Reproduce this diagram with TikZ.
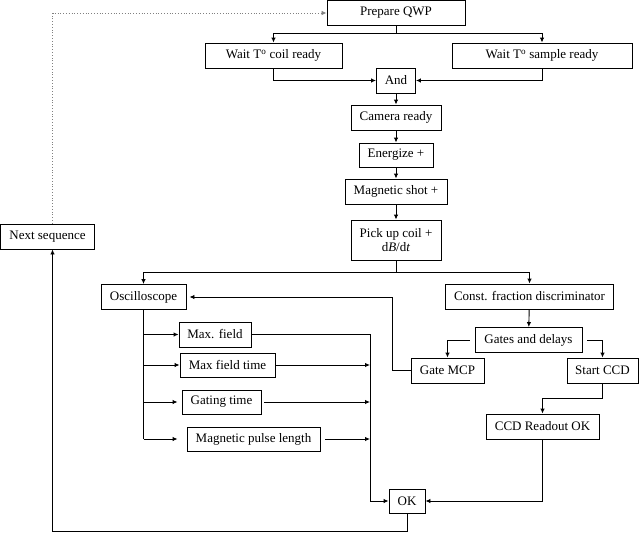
\documentclass[tikz,border=0pt]{standalone}
\usepackage{fontspec}
\setmainfont{Liberation Serif}
\usetikzlibrary{arrows.meta}
\begin{document}
\begin{tikzpicture}[x=1pt,y=-1pt,
  box/.style={draw,line width=0.9pt,rectangle,inner sep=0pt,align=center,font=\fontsize{13}{14}\selectfont},
  con/.style={line width=0.9pt,-{Latex[length=5pt,width=4.5pt]}},
  lin/.style={line width=0.9pt},
  dot/.style={line width=0.8pt,gray,dotted,-{Latex[length=5pt,width=4.5pt]}}]
\useasboundingbox (0,0) rectangle (640,533);
% nodes
\node[box,minimum width=138,minimum height=25] (prep) at (396,13) {Prepare QWP};
\node[box,minimum width=137,minimum height=25] (coil) at (273.5,55.5) {Wait T\textsuperscript{o} coil ready};
\node[box,minimum width=180,minimum height=25] (sample) at (542,55.5) {Wait T\textsuperscript{o} sample ready};
\node[box,minimum width=39,minimum height=25] (and) at (396,80.5) {And};
\node[box,minimum width=90,minimum height=25] (camera) at (396,117.5) {Camera ready};
\node[box,minimum width=74,minimum height=24] (energize) at (396,155) {Energize +};
\node[box,minimum width=102,minimum height=25] (magshot) at (396,191.5) {Magnetic shot +};
\node[box,minimum width=90,minimum height=40] (pickup) at (396,240) {Pick up coil +\\d\textit{B}/d\textit{t}};
\node[box,minimum width=94,minimum height=25] (next) at (47.5,236.5) {Next sequence};
\node[box,minimum width=85,minimum height=25] (osc) at (143.5,297) {Oscilloscope};
\node[box,minimum width=168,minimum height=25] (cfd) at (529.5,296.5) {Const. fraction discriminator};
\node[box,minimum width=72,minimum height=25] (maxf) at (215,334.5) {Max. field};
\node[box,minimum width=107,minimum height=25] (gates) at (528.5,340) {Gates and delays};
\node[box,minimum width=95,minimum height=24] (maxft) at (227.5,365) {Max field time};
\node[box,minimum width=73,minimum height=25] (gatemcp) at (447.5,370.5) {Gate MCP};
\node[box,minimum width=71,minimum height=25] (startccd) at (602.5,370.5) {Start CCD};
\node[box,minimum width=79,minimum height=24] (gating) at (221.5,402) {Gating time};
\node[box,minimum width=133,minimum height=24] (pulse) at (253.5,439) {Magnetic pulse length};
\node[box,minimum width=113,minimum height=25] (ccdro) at (542.5,426.5) {CCD Readout OK};
\node[box,minimum width=36,minimum height=24] (ok) at (407,501) {OK};
\coordinate (bus) at (370,0);
\coordinate (split1) at (396,33);
\coordinate (split2) at (396,272);
% top part
\draw[lin] (prep.south) -- (split1);
\draw[con] (split1) -| (coil.north);
\draw[con] (split1) -| (sample.north);
\draw[con] (coil.south) |- (and.west);
\draw[con] (sample.south) |- (and.east);
\draw[con] (and) -- (camera);
\draw[con] (camera) -- (energize);
\draw[con] (energize) -- (magshot);
\draw[con] (magshot) -- (pickup);
\draw[lin] (pickup.south) -- (split2);
\draw[con] (split2) -| (osc.north);
\draw[con] (split2) -| (cfd.north);
% right branch
\draw[con] (cfd) -- (gates);
\draw[con] ([xshift=-5pt]gates.west) -| (gatemcp.north);
\draw[con] ([xshift=5pt]gates.east) -| (startccd.north);
\draw[con] (gatemcp.west) -- ++(-18,0) |- ([xshift=3pt]osc.east);
\draw[con] (startccd.south) -- ++(0,15) -| (ccdro.north);
\draw[con] (ccdro.south) |- (ok.east);
% oscilloscope outputs
\draw[lin] (osc.south) -- (osc.south |- pulse.west);
\draw[con] (osc.south |- maxf.west) -- (maxf.west);
\draw[con] (osc.south |- maxft.west) -- (maxft.west);
\draw[con] (osc.south |- gating.west) -- ([xshift=-4pt]gating.west);
\draw[con] (osc.south |- pulse.west) -- ([xshift=-9pt]pulse.west);
\draw[con] (maxf.east) -| (bus |- ok.west) -- (ok.west);
\draw[con] (maxft.east) -- (bus |- maxft.east);
\draw[con] ([xshift=3pt]gating.east) -- (bus |- gating.east);
\draw[con] ([xshift=5pt]pulse.east) -- (bus |- pulse.east);
% loop back
\draw[con] (ok.south) -- ++(0,18) -| ([xshift=5pt]next.south);
\draw[dot] ([xshift=5pt]next.north) |- (prep.west);
\end{tikzpicture}
\end{document}
